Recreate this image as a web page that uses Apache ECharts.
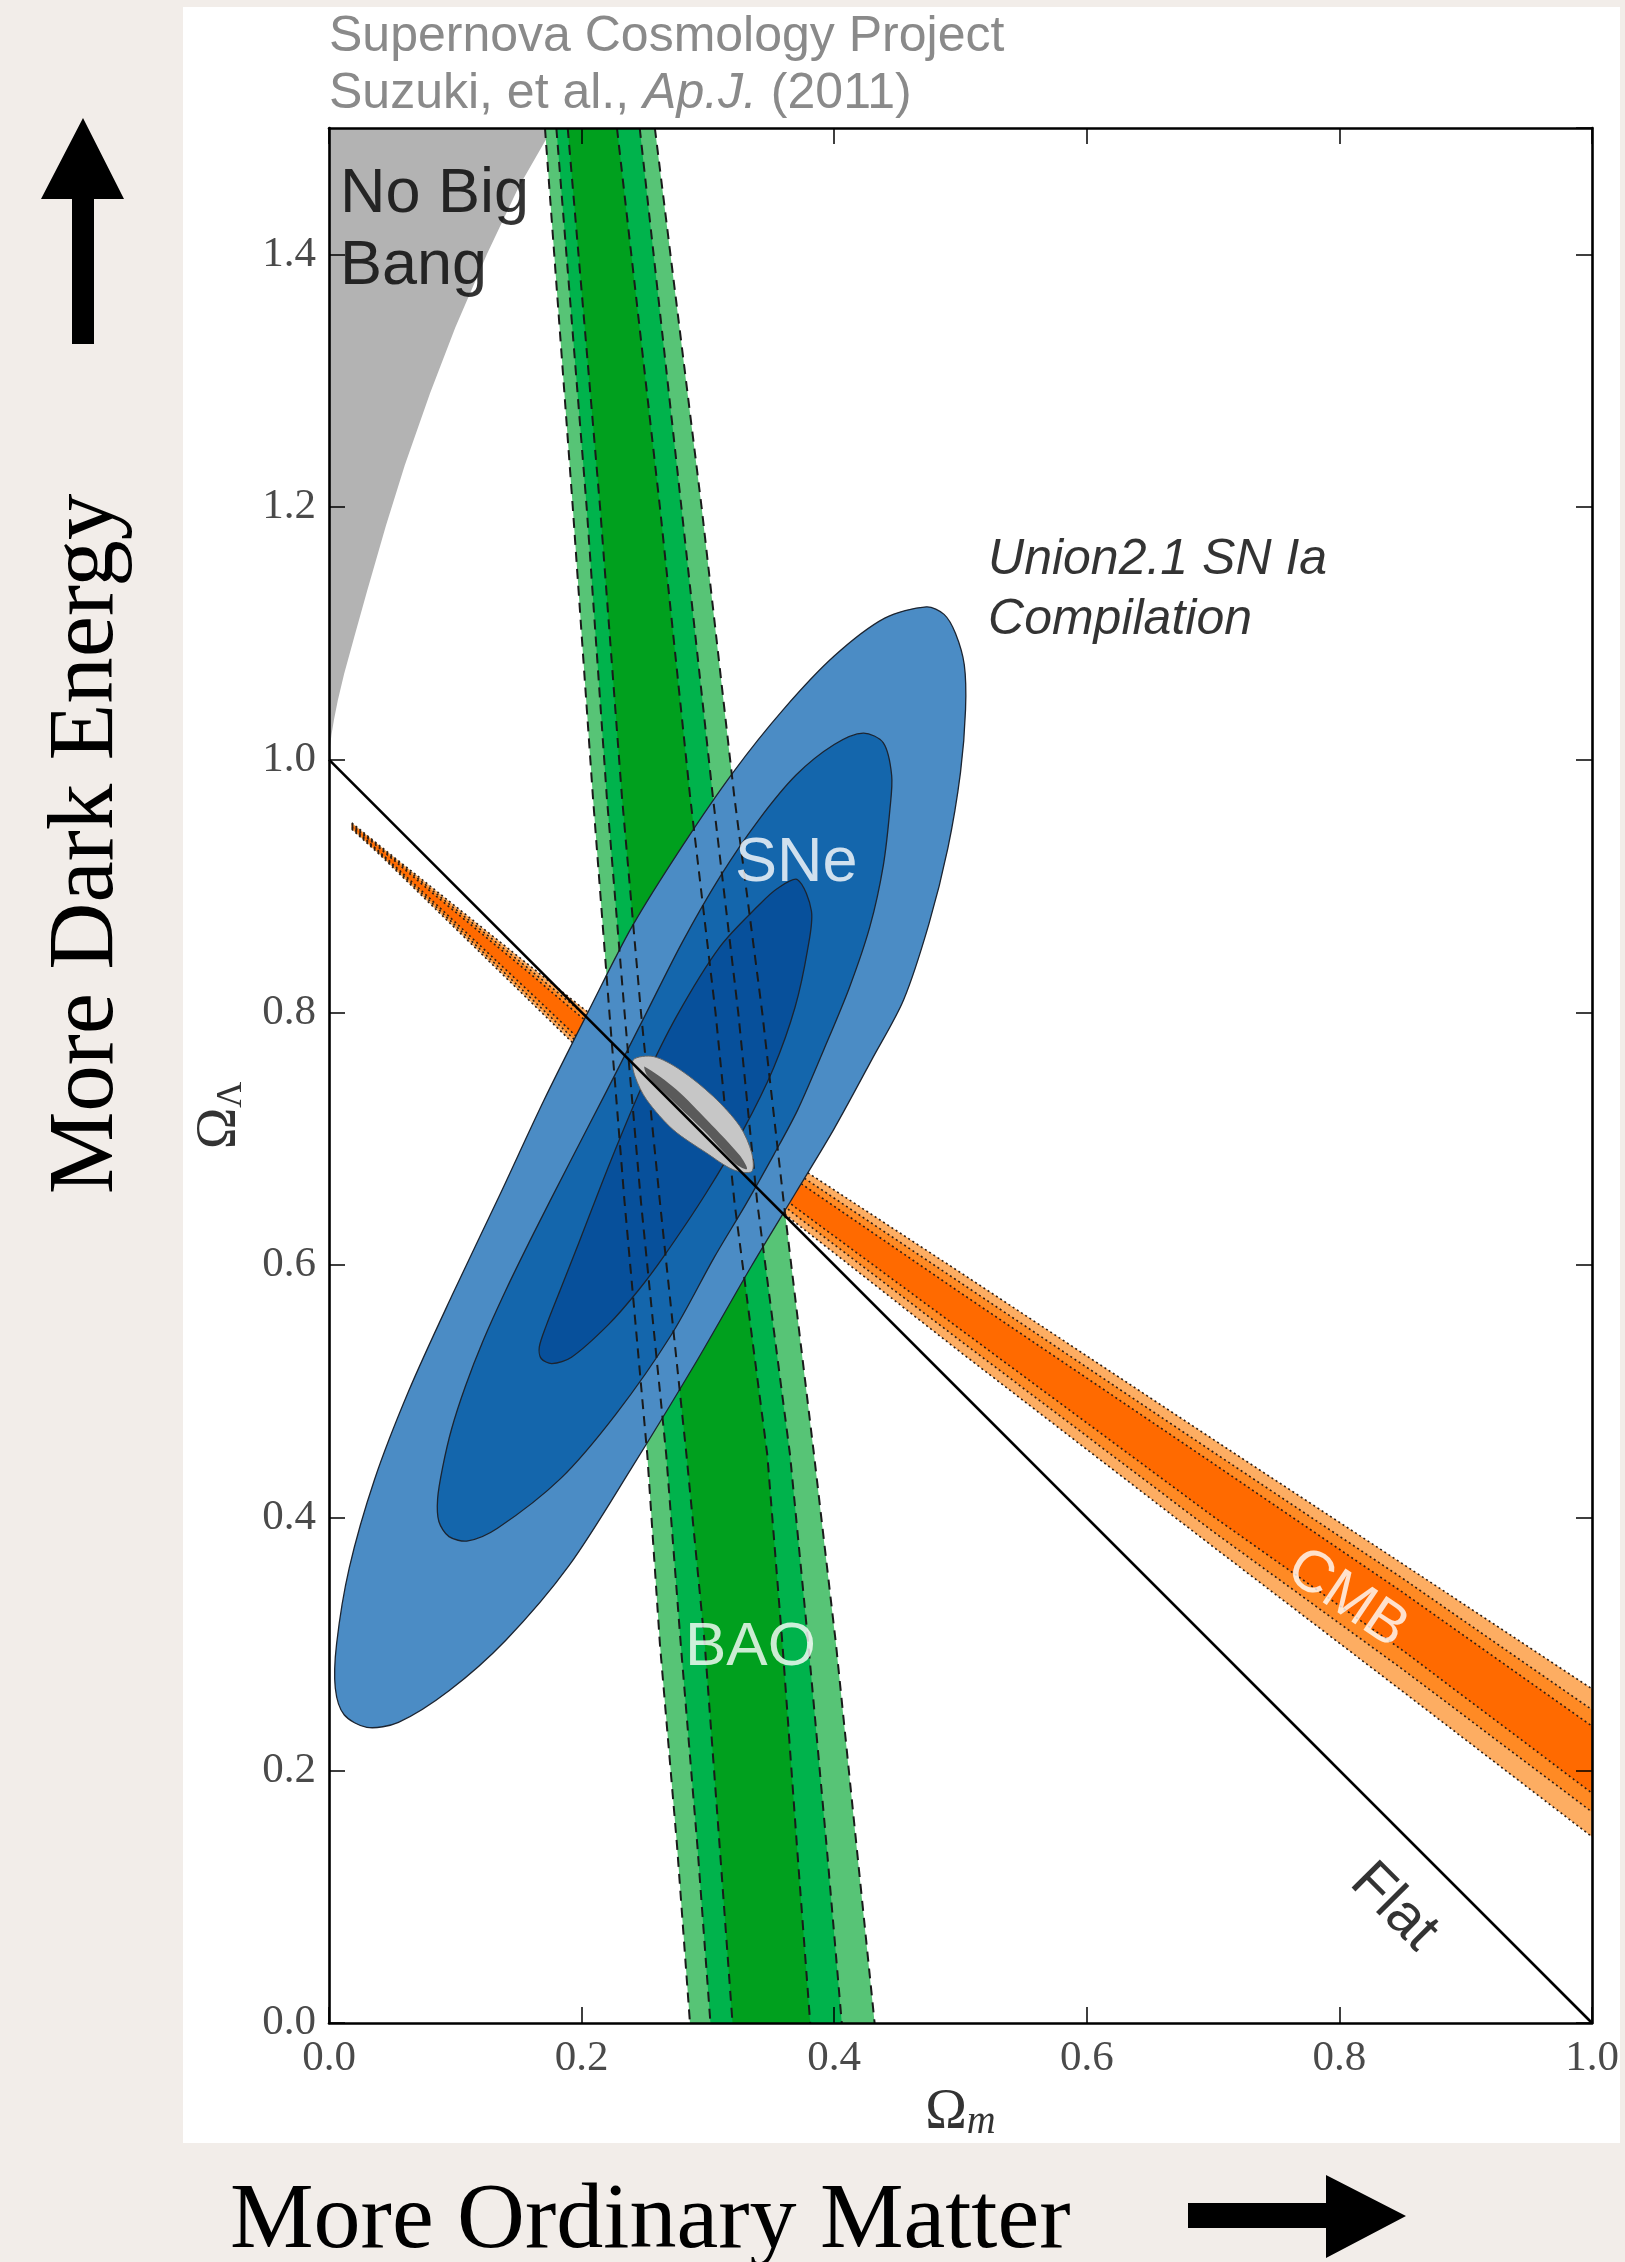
<!DOCTYPE html>
<html>
<head>
<meta charset="utf-8">
<script src="https://cdn.jsdelivr.net/npm/echarts@6/dist/echarts.min.js"></script>
<style>
html,body{margin:0;padding:0;background:#f2ede9;}
#chart{width:1625px;height:2262px;}
</style>
</head>
<body>
<div id="chart"></div>
<script>
// ---------------- data ----------------
// axis ticks
const xTicks = [0.0, 0.2, 0.4, 0.6, 0.8, 1.0];
const yTicks = [0.0, 0.2, 0.4, 0.6, 0.8, 1.0, 1.2, 1.4];

// "No Big Bang" boundary (Omega_m, Omega_Lambda)
const noBigBangEdge = [[0,1.0],[0.001,1.012],[0.002,1.02],[0.004,1.032],[0.007,1.047],[0.012,1.068],[0.02,1.097],[0.03,1.133],[0.045,1.185],[0.06,1.233],[0.08,1.29],[0.1,1.342],[0.125,1.40],[0.15,1.453],[0.177,1.5]];

// Flat universe line
const flatLine = [[0,1],[1,0]];

// BAO band edges sampled at Omega_Lambda levels
const baoY      = [1.5,   1.2,    0.97,  0.8,   0.65,  0.45,  0.3,    0.14,   0.0];
const baoOuterL = [0.171, 0.193,  0.209, 0.222, 0.234, 0.252, 0.262,  0.2756, 0.2858];
const baoMidL   = [0.180, 0.204,  0.220, 0.234, 0.247, 0.267, 0.2785, 0.2917, 0.302];
const baoInnerL = [0.189, 0.2146, 0.232, 0.247, 0.262, 0.283, 0.2975, 0.3093, 0.3195];
const baoInnerR = [0.228, 0.262,  0.286, 0.306, 0.321, 0.347, 0.359,  0.3705, 0.381];
const baoMidR   = [0.246, 0.279,  0.304, 0.324, 0.339, 0.365, 0.3795, 0.394,  0.406];
const baoOuterR = [0.258, 0.295,  0.321, 0.343, 0.360, 0.384, 0.4014, 0.4177, 0.432];

// CMB band edges sampled at Omega_m positions
const cmbX      = [0.018, 0.04,  0.08,  0.16,  0.2,   0.37,  0.5,   0.7,   0.85,   1.0];
const cmbOuterT = [0.950, 0.932, 0.900, 0.836, 0.804, 0.679, 0.594, 0.462, 0.3635, 0.2645];
const cmbMidT   = [0.949, 0.931, 0.898, 0.833, 0.800, 0.673, 0.586, 0.452, 0.352,  0.248];
const cmbInnerT = [0.948, 0.930, 0.896, 0.830, 0.796, 0.667, 0.578, 0.443, 0.341,  0.235];
const cmbInnerB = [0.947, 0.927, 0.890, 0.815, 0.777, 0.645, 0.549, 0.401, 0.295,  0.182];
const cmbMidB   = [0.946, 0.926, 0.888, 0.811, 0.773, 0.639, 0.540, 0.389, 0.280,  0.167];
const cmbOuterB = [0.945, 0.925, 0.886, 0.808, 0.769, 0.633, 0.531, 0.377, 0.2625, 0.1474];

// SNe confidence contours (outer 99.7%, middle 95%, inner 68%)
const sneOuter = [[0.473,1.121],[0.44,1.112],[0.40,1.082],[0.36,1.04],[0.32,0.99],[0.28,0.932],[0.24,0.868],[0.205,0.80],[0.17,0.73],[0.135,0.655],[0.097,0.575],[0.063,0.50],[0.036,0.43],[0.016,0.36],[0.006,0.30],[0.005,0.265],[0.012,0.244],[0.03,0.234],[0.055,0.238],[0.095,0.263],[0.14,0.303],[0.19,0.362],[0.24,0.44],[0.29,0.522],[0.335,0.60],[0.37,0.658],[0.40,0.708],[0.43,0.763],[0.455,0.81],[0.475,0.87],[0.49,0.93],[0.50,0.99],[0.504,1.04],[0.503,1.075],[0.496,1.10],[0.487,1.115]];
const sneMid = [[0.423,1.021],[0.40,1.012],[0.37,0.988],[0.34,0.952],[0.31,0.908],[0.28,0.856],[0.25,0.797],[0.22,0.738],[0.19,0.680],[0.162,0.625],[0.14,0.58],[0.122,0.54],[0.108,0.504],[0.097,0.47],[0.09,0.44],[0.086,0.415],[0.087,0.397],[0.095,0.385],[0.11,0.3816],[0.1334,0.3916],[0.1833,0.4309],[0.2272,0.482],[0.2712,0.545],[0.305,0.606],[0.33,0.648],[0.352,0.687],[0.371,0.7226],[0.392,0.771],[0.412,0.8195],[0.4283,0.868],[0.4389,0.9164],[0.4442,0.9616],[0.4455,0.9875],[0.4389,1.0133]];
const sneInner = [[0.371,0.905],[0.355,0.898],[0.341,0.8855],[0.3096,0.852],[0.2753,0.797],[0.249,0.744],[0.2225,0.681],[0.198,0.618],[0.183,0.58],[0.172,0.552],[0.1665,0.535],[0.168,0.526],[0.1765,0.522],[0.192,0.527],[0.2214,0.553],[0.245,0.58],[0.2652,0.607],[0.298,0.656],[0.328,0.707],[0.352,0.756],[0.369,0.804],[0.379,0.85],[0.382,0.88]];

// combined constraint (grey) and its dark core
const combined = [[0.241,0.7625],[0.2568,0.765],[0.2779,0.7546],[0.3043,0.7334],[0.3254,0.7097],[0.3347,0.6886],[0.3347,0.674],[0.3201,0.6754],[0.299,0.6886],[0.2726,0.707],[0.2515,0.7308],[0.2423,0.7493]];
const combinedCore = [[0.25,0.757],[0.275,0.739],[0.30,0.714],[0.325,0.687],[0.331,0.676],[0.322,0.680],[0.297,0.706],[0.272,0.730],[0.252,0.750]];

// in-plot label anchors [Omega_m, Omega_Lambda]
const labelNoBigBang = [0.0087, 1.4186];
const labelUnion     = [0.5218, 1.134];
const labelSNe       = [0.370, 0.918];
const labelBAO       = [0.3337, 0.297];
const labelCMB       = [0.806, 0.3357];
const labelFlat      = [0.843, 0.0918];

// ---------------- chart ----------------
const chart = echarts.init(document.getElementById('chart'), null, {renderer: 'canvas'});

function pairsY(xs, ys) { return ys.map((y, i) => [xs[i], y]); }
function pairsX(xs, ys) { return xs.map((x, i) => [x, ys[i]]); }
function band(a, b) { return a.concat(b.slice().reverse()); }

function poly(pts, fill, z, opts) {
  opts = opts || {};
  return {
    type: 'custom', coordinateSystem: 'cartesian2d', xAxisIndex: 0, yAxisIndex: 0,
    silent: true, z: z, clip: true, animation: false,
    data: [[pts[0][0], pts[0][1]]],
    renderItem: function (params, api) {
      return {
        type: 'polygon',
        shape: { points: pts.map(p => api.coord(p)), smooth: opts.smooth || 0 },
        style: { fill: fill, stroke: opts.stroke || null, lineWidth: opts.lw || 0 }
      };
    }
  };
}
function line(pts, color, width, type, z) {
  return {
    type: 'line', data: pts, showSymbol: false, symbol: 'none', silent: true, z: z,
    clip: true, animation: false,
    lineStyle: { color: color, width: width, type: type }
  };
}

const baoOL = pairsY(baoOuterL, baoY), baoOR = pairsY(baoOuterR, baoY);
const baoML = pairsY(baoMidL, baoY),   baoMR = pairsY(baoMidR, baoY);
const baoIL = pairsY(baoInnerL, baoY), baoIR = pairsY(baoInnerR, baoY);

const cOT = pairsX(cmbX, cmbOuterT), cOB = pairsX(cmbX, cmbOuterB);
const cMT = pairsX(cmbX, cmbMidT),   cMB = pairsX(cmbX, cmbMidB);
const cIT = pairsX(cmbX, cmbInnerT), cIB = pairsX(cmbX, cmbInnerB);

const series = [];
// No Big Bang region
series.push(poly(noBigBangEdge.concat([[0, 1.5]]), '#b3b3b3', 2));
// BAO
series.push(poly(band(baoOL, baoOR), '#57c476', 3));
series.push(poly(band(baoML, baoMR), '#00b34c', 4));
series.push(poly(band(baoIL, baoIR), '#00a01e', 5));
// CMB
series.push(poly(band(cOT, cOB), '#fdad62', 6));
series.push(poly(band(cMT, cMB), '#ff8a24', 7));
series.push(poly(band(cIT, cIB), '#ff6a00', 8));
[cOT, cMT, cIT, cIB, cMB, cOB].forEach(e => series.push(line(e, '#2a1e16', 1.6, [2, 3], 9)));
// SNe
series.push(poly(sneOuter, '#4b8cc5', 10, {smooth: 0.3, stroke: '#1c2430', lw: 1.3}));
series.push(poly(sneMid,   '#1466ac', 11, {smooth: 0.3, stroke: '#1c2430', lw: 1.3}));
series.push(poly(sneInner, '#07509b', 12, {smooth: 0.3, stroke: '#1c2430', lw: 1.3}));
// BAO dashed contour lines on top
[baoOL, baoML, baoIL, baoIR, baoMR, baoOR].forEach(e => series.push(line(e, '#1a1a1a', 2, [10, 7], 14)));
// combined
series.push(poly(combined, '#c6c6c6', 16, {smooth: 0.3, stroke: '#666', lw: 1}));
series.push(poly(combinedCore, '#5a5a5a', 17, {smooth: 0.3}));
// Flat line
series.push(line(flatLine, '#000', 2.6, 'solid', 20));

// labels
const sans = 'Liberation Sans';
series.push({
  type: 'scatter', symbolSize: 0, silent: true, z: 60, animation: false,
  data: [
    {value: labelNoBigBang, label: {show: true, position: 'inside', formatter: 'No Big\nBang', align: 'left', verticalAlign: 'middle', color: '#000', fontFamily: sans, fontSize: 63, lineHeight: 72}},
    {value: labelUnion, label: {show: true, position: 'inside', formatter: 'Union2.1 SN Ia\nCompilation', align: 'left', verticalAlign: 'middle', color: '#000', fontFamily: sans, fontStyle: 'italic', fontSize: 50, lineHeight: 60}},
    {value: labelSNe, label: {show: true, position: 'inside', formatter: 'SNe', color: '#fff', fontFamily: sans, fontSize: 63}},
    {value: labelBAO, label: {show: true, position: 'inside', formatter: 'BAO', color: '#fff', fontFamily: sans, fontSize: 62}},
    {value: labelCMB, label: {show: true, position: 'inside', formatter: 'CMB', color: '#fff', fontFamily: sans, fontSize: 59, rotate: -34}},
    {value: labelFlat, label: {show: true, position: 'inside', formatter: 'Flat', color: '#000', fontFamily: sans, fontSize: 58, rotate: -45}}
  ]
});

const serif = 'Liberation Serif';
const tickLabel = {show: true, fontFamily: serif, fontSize: 43, color: '#4a4a4a'};
const axLine = {show: true, onZero: false, lineStyle: {color: '#000', width: 2.6}};
const axTick = {show: true, inside: true, length: 16, lineStyle: {color: '#000', width: 1.5}};
const nameRich = {
  o: {fontFamily: serif, fontSize: 56, color: '#333', lineHeight: 60},
  s: {fontFamily: serif, fontSize: 40, fontStyle: 'italic', color: '#333', lineHeight: 30, verticalAlign: 'bottom'},
  l: {fontFamily: serif, fontSize: 36, color: '#333', lineHeight: 30, verticalAlign: 'bottom'}
};
function fmt(v) { return Math.abs(v - 1.5) < 1e-9 ? '' : v.toFixed(1); }

const option = {
  backgroundColor: '#f2ede9',
  animation: false,
  grid: {left: 329, right: 33, top: 128, bottom: 239, containLabel: false},
  xAxis: [
    {type: 'value', min: xTicks[0], max: xTicks[xTicks.length - 1], interval: 0.2, position: 'bottom', z: 100,
     axisLine: axLine, axisTick: axTick, splitLine: {show: false},
     axisLabel: Object.assign({}, tickLabel, {margin: 14, formatter: fmt}),
     name: '{o|Ω}{s|m}', nameLocation: 'middle', nameGap: 52,
     nameTextStyle: {rich: nameRich}},
    {type: 'value', min: 0, max: 1, interval: 0.2, position: 'top', z: 100,
     axisLine: axLine, axisTick: axTick, splitLine: {show: false}, axisLabel: {show: false}}
  ],
  yAxis: [
    {type: 'value', min: yTicks[0], max: 1.5, interval: 0.2, position: 'left', z: 100,
     axisLine: axLine, axisTick: axTick, splitLine: {show: false},
     axisLabel: Object.assign({}, tickLabel, {margin: 13, formatter: fmt, showMaxLabel: false}),
     name: '{o|Ω}{l|Λ}', nameLocation: 'middle', nameGap: 79, nameRotate: 90,
     nameTextStyle: {rich: nameRich, padding: [0, 80, 0, 0]}},
    {type: 'value', min: 0, max: 1.5, interval: 0.2, position: 'right', z: 100,
     axisLine: axLine, axisTick: axTick, splitLine: {show: false}, axisLabel: {show: false}}
  ],
  graphic: [
    {type: 'rect', z: -10, silent: true, shape: {x: 183, y: 7, width: 1437, height: 2136}, style: {fill: '#ffffff'}},
    {type: 'text', z: 5, silent: true, x: 329, y: 37,
     style: {text: 'Supernova Cosmology Project', fontFamily: sans, fontSize: 50, fill: '#8a8a8a', align: 'left', verticalAlign: 'middle'}},
    {type: 'text', z: 5, silent: true, x: 329, y: 94,
     style: {text: 'Suzuki, et al., {i|Ap.J.} (2011)', fontFamily: sans, fontSize: 50, fill: '#8a8a8a', align: 'left', verticalAlign: 'middle',
             rich: {i: {fontFamily: sans, fontSize: 50, fontStyle: 'italic', fill: '#8a8a8a'}}}},
    {type: 'text', z: 5, silent: true, x: 88, y: 844, rotation: Math.PI / 2,
     style: {text: 'More Dark Energy', fontFamily: serif, fontSize: 93, fill: '#000', align: 'center', verticalAlign: 'middle'}},
    {type: 'text', z: 5, silent: true, x: 230, y: 2222,
     style: {text: 'More Ordinary Matter', fontFamily: serif, fontSize: 94, fill: '#000', align: 'left', verticalAlign: 'middle'}},
    {type: 'polygon', z: 5, silent: true,
     shape: {points: [[83,118],[124,199],[94,199],[94,344],[72,344],[72,199],[41,199]]}, style: {fill: '#000'}},
    {type: 'polygon', z: 5, silent: true,
     shape: {points: [[1188,2203],[1326,2203],[1326,2175],[1406,2216],[1326,2258],[1326,2228],[1188,2228]]}, style: {fill: '#000'}}
  ],
  series: series
};
chart.setOption(option);
</script>
</body>
</html>
